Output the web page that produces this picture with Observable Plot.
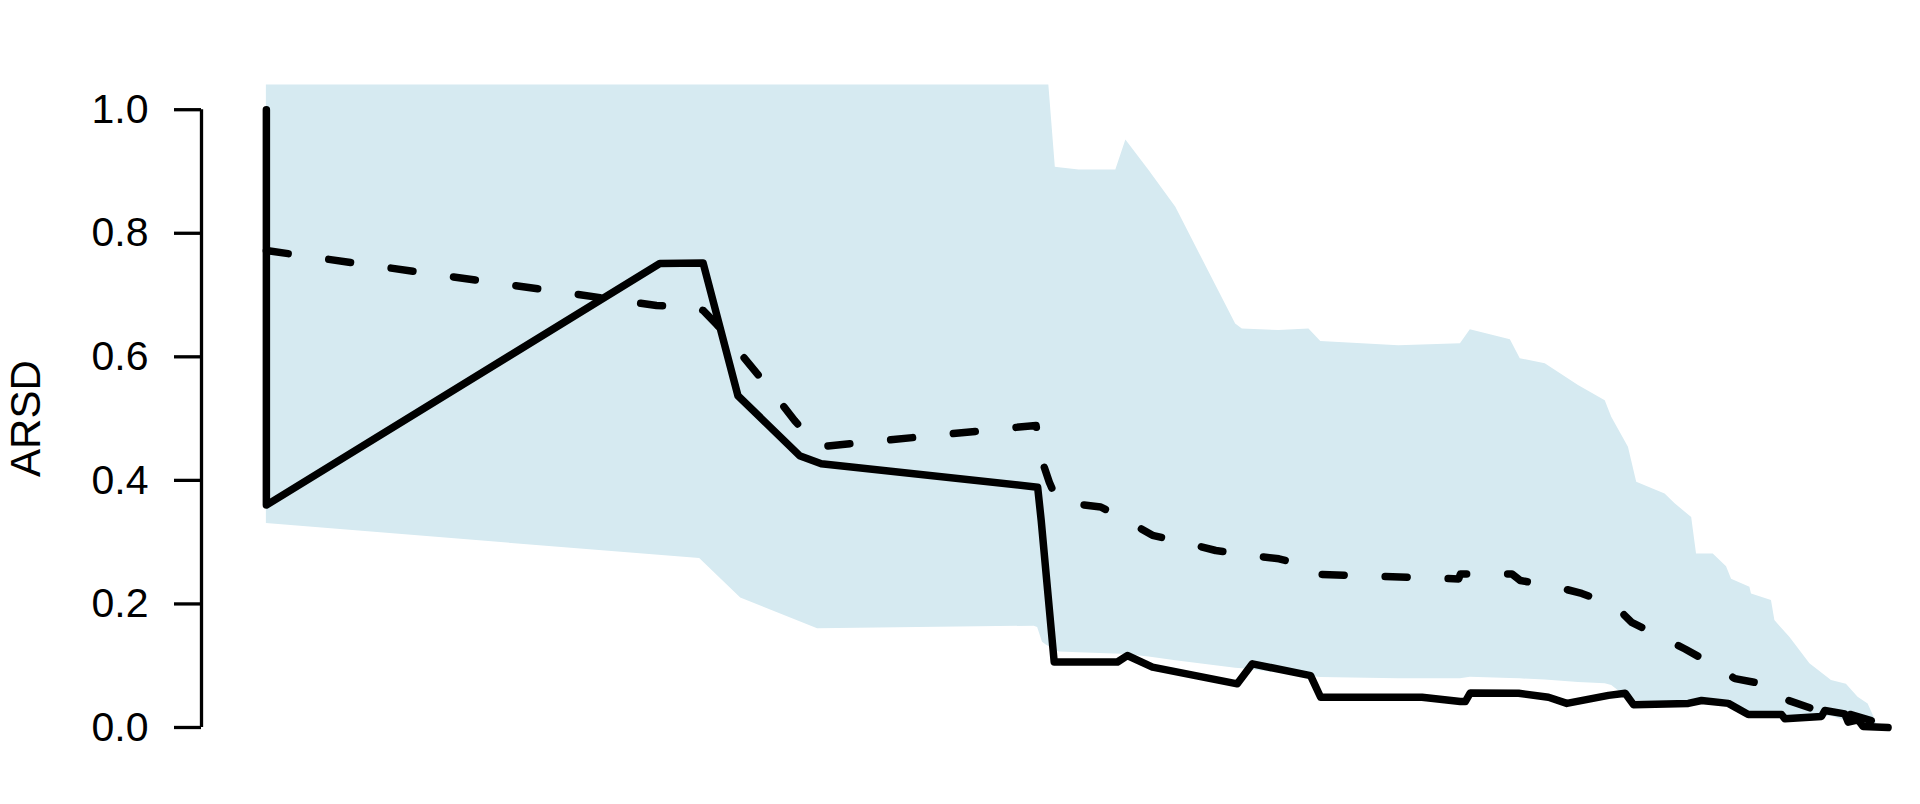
<!DOCTYPE html>
<html>
<head>
<meta charset="utf-8">
<script src="https://cdn.jsdelivr.net/npm/d3@7"></script>
<script src="https://cdn.jsdelivr.net/npm/@observablehq/plot@0.6"></script>
<style>
  html, body { margin: 0; padding: 0; background: #ffffff; overflow: hidden; }
  #chart svg { display: block; }
</style>
</head>
<body>
<div id="chart"></div>
<script>
// ---- data ----
const yTicks = [0, 0.2, 0.4, 0.6, 0.8, 1.0];
const yLabel = "ARSD";

// solid line
const solidX = [0, 0, 24.26, 26.93, 29.08, 32.88, 34.22, 47.56, 47.78, 48.58, 52.48, 53.09, 54.64, 59.87, 60.8, 64.39, 65.01, 71.26, 73.62, 73.93, 74.24, 77.22, 79.06, 80.19, 82.76, 83.79, 84.3, 87.68, 88.5, 90.15, 91.38, 93.43, 93.64, 95.89, 96.1, 97.33, 97.54, 98.15, 98.46, 100];
const solidY = [1.0, 0.36, 0.751, 0.752, 0.537, 0.44, 0.427, 0.389, 0.335, 0.106, 0.106, 0.1165, 0.0977, 0.0707, 0.103, 0.084, 0.049, 0.049, 0.042, 0.042, 0.056, 0.0555, 0.049, 0.039, 0.052, 0.0555, 0.037, 0.039, 0.0437, 0.039, 0.021, 0.021, 0.014, 0.0178, 0.0275, 0.022, 0.0086, 0.0125, 0.0016, 0];

// dashed line
const dashX = [0, 24.06, 26.52, 26.93, 27.75, 31.45, 32.57, 33.99, 47.46, 47.76, 48.28, 48.77, 49.82, 51.45, 53.4, 54.64, 57.0, 58.54, 60.9, 62.44, 64.59, 65.01, 73.52, 73.63, 76.81, 77.32, 79.68, 81.11, 83.17, 84.19, 86.25, 87.48, 89.33, 90.56, 92.81, 93.74, 95.38, 97.54, 99.38, 100];
const dashY = [0.772, 0.683, 0.680, 0.675, 0.653, 0.535, 0.497, 0.454, 0.489, 0.4375, 0.397, 0.367, 0.362, 0.357, 0.33, 0.311, 0.297, 0.2865, 0.278, 0.273, 0.2595, 0.2477, 0.2405, 0.2485, 0.2485, 0.238, 0.2267, 0.217, 0.197, 0.17, 0.1435, 0.127, 0.1, 0.079, 0.068, 0.0448, 0.03, 0.022, 0.008, 0.005];

// shaded band
const bandX  = [0, 26.72, 29.25, 33.99, 47.35, 47.56, 47.86, 48.07, 48.65, 48.89, 50.12, 52.28, 52.38, 53.0, 54.43, 56.08, 59.77, 60.18, 62.44, 64.29, 65.02, 69.83, 73.63, 74.24, 76.71, 77.32, 78.86, 80.91, 82.56, 82.96, 83.99, 84.5, 86.25, 86.87, 87.89, 88.19, 89.22, 90.04, 90.35, 91.48, 91.58, 92.81, 93.02, 93.94, 95.18, 96.51, 97.43, 98.15, 98.77, 99.18, 99.38];
const bandHi = [1.1, 1.1, 1.1, 1.1, 1.1, 1.1, 1.1, 1.1, 0.907, 0.906, 0.9025, 0.9025, 0.9025, 0.951, 0.9016, 0.842, 0.653, 0.645, 0.6426, 0.645, 0.625, 0.618, 0.621, 0.644, 0.6275, 0.597, 0.5886, 0.5536, 0.529, 0.502, 0.4537, 0.397, 0.378, 0.362, 0.34, 0.281, 0.281, 0.26, 0.24, 0.227, 0.216, 0.2056, 0.173, 0.146, 0.103, 0.076, 0.07, 0.049, 0.038, 0.014, 0.0];
const bandLo = [0.33, 0.2735, 0.2095, 0.16, 0.164, 0.162, 0.138, 0.134, 0.125, 0.122, 0.121, 0.119, 0.119, 0.118, 0.114, 0.108, 0.096, 0.095, 0.088, 0.083, 0.081, 0.0787, 0.0787, 0.0814, 0.0795, 0.0787, 0.077, 0.073, 0.0706, 0.068, 0.047, 0.043, 0.04, 0.04, 0.04, 0.04, 0.04, 0.038, 0.036, 0.022, 0.022, 0.021, 0.021, 0.015, 0.016, 0.018, 0.01, 0.01, 0.002, 0.0, 0.0];

// ---- tables built from the arrays ----
const solid = solidX.map((x, i) => ({x, y: solidY[i]}));
const dashed = dashX.map((x, i) => ({x, y: dashY[i]}));
const band = bandX.map((x, i) => ({x, lo: bandLo[i], hi: bandHi[i]}));
const axisLine = [{x: -4, y1: d3.min(yTicks), y2: d3.max(yTicks)}];

const chart = Plot.plot({
  width: 1920,
  height: 804,
  marginLeft: 201,
  marginRight: 0,
  marginTop: 84.5,
  marginBottom: 52.3,
  style: {fontFamily: "'Liberation Sans', Arial, Helvetica, sans-serif", color: "#000", background: "#fff", overflow: "visible"},
  x: {domain: [-4, 102], axis: null},
  y: {domain: [-0.04, 1.04], axis: null},
  marks: [
    Plot.areaY(band, {x: "x", y1: "lo", y2: "hi", fill: "#d6eaf1", clip: true}),
    Plot.line(solid, {x: "x", y: "y", stroke: "#000", strokeWidth: 7.5, strokeLinejoin: "round", strokeLinecap: "round"}),
    Plot.line(dashed, {x: "x", y: "y", stroke: "#000", strokeWidth: 7.5, strokeDasharray: "22,41", strokeLinejoin: "round", strokeLinecap: "round"}),
    Plot.ruleX(axisLine, {x: "x", y1: "y1", y2: "y2", stroke: "#000", strokeWidth: 3.3}),
    Plot.axisY({ticks: yTicks, tickSize: 27, tickPadding: 26, tickFormat: d => d.toFixed(1), fontSize: 41, strokeWidth: 3.3, label: null}),
    Plot.text([yLabel], {frameAnchor: "left", textAnchor: "middle", lineAnchor: "middle", dx: -175, rotate: -90, fontSize: 42, fill: "#000"})
  ]
});
document.getElementById("chart").appendChild(chart);
</script>
</body>
</html>
